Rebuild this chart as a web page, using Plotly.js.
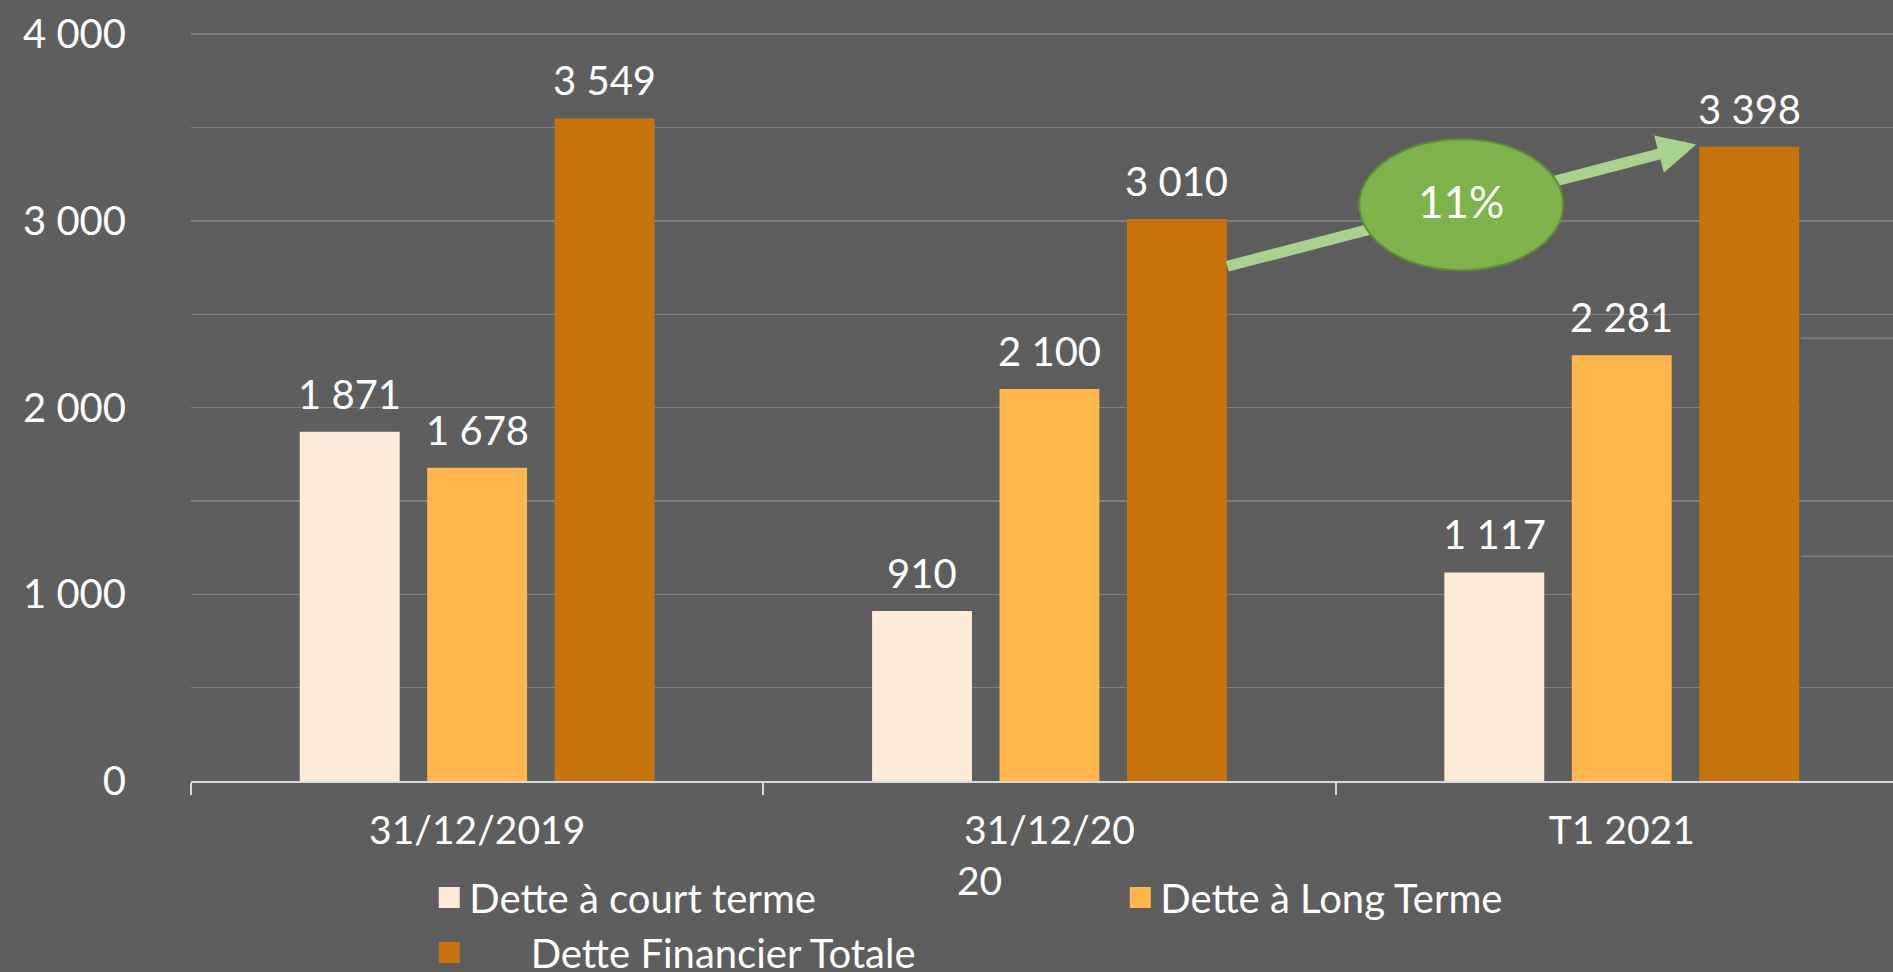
<!DOCTYPE html>
<html>
<head>
<meta charset="utf-8">
<script src="https://cdn.plot.ly/plotly-3.0.1.min.js"></script>
<style>
  html, body { margin: 0; padding: 0; background: #5E5E5E; }
  #chart { width: 1893px; height: 972px; }
</style>
</head>
<body>
<div id="chart"></div>
<script>
// ---- data ----
const categories = ['31/12/2019', '31/12/2020', 'T1 2021'];
const tickLabels = ['31/12/2019', '31/12/20<br>20\u00A0\u00A0\u00A0\u00A0\u00A0\u00A0\u00A0\u00A0\u00A0\u00A0\u00A0\u00A0\u00A0\u00A0', 'T1 2021'];
const seriesNames = ['Dette à court terme', 'Dette à Long Terme', 'Dette Financier Totale'];
const legendLabels = ['Dette à court terme', 'Dette à Long Terme', '\u00A0\u00A0\u00A0\u00A0\u00A0\u00A0Dette Financier Totale'];
const detteCourtTerme = [1871, 910, 1117];
const detteLongTerme = [1678, 2100, 2281];
const detteTotale = [3549, 3010, 3398];
const growthLabel = '11%';

// ---- styles ----
const BG = '#5E5E5E';
const GRID = '#808080';
const colors = ['#FCEBD7', '#FFB74D', '#C7740D'];
const FONT = 'Lato, "Open Sans", sans-serif';
const BARGAP = 0.332;
const BARGROUPGAP = 0.216;

const series = [detteCourtTerme, detteLongTerme, detteTotale];
const slot = (1 - BARGAP) / series.length;
const barW = slot * (1 - BARGROUPGAP);

function fmt(v) { return String(v).replace(/\B(?=(\d{3})+(?!\d))/g, ' '); }

const traces = [];
series.forEach((vals, s) => {
  traces.push({
    type: 'bar', x: categories, y: vals, name: seriesNames[s],
    marker: { color: colors[s] }, showlegend: false, hoverinfo: 'skip'
  });
});
series.forEach((vals, s) => {
  traces.push({
    type: 'scatter', mode: 'markers', x: [null], y: [null], name: legendLabels[s],
    marker: { symbol: 'square', size: 16, color: colors[s], line: { color: colors[s], width: 5 } },
    hoverinfo: 'skip'
  });
});

const annotations = [];
series.forEach((vals, s) => {
  vals.forEach((v, i) => {
    annotations.push({
      xref: 'x', yref: 'y', x: i + (s - 1) * slot, y: v, text: fmt(v),
      showarrow: false, yanchor: 'middle', yshift: 38,
      font: { family: FONT, size: 40, color: '#FFFFFF' }
    });
  });
});

// growth callout (arrow from 2020 total bar to T1 2021 total bar)
const lastBarRight = (categories.length - 1) + slot + barW / 2;
const arrowStart = { x: 1.3108, y: 2757 };
const arrowTip = { x: 2.1302, y: 3410 };
function along(t) { return { x: arrowStart.x + t * (arrowTip.x - arrowStart.x), y: arrowStart.y + t * (arrowTip.y - arrowStart.y) }; }
const arrowMid = along(0.75);
const shaftEnd = along(0.86);
const ellipse = { x0: 1.5414, x1: 1.8979, y0: 2736, y1: 3438 };

annotations.push({
  xref: 'x', yref: 'y', axref: 'x', ayref: 'y',
  x: arrowTip.x, y: arrowTip.y, ax: arrowMid.x, ay: arrowMid.y,
  text: ' ', font: { size: 1 }, showarrow: true,
  arrowhead: 2, arrowsize: 0.7, arrowwidth: 11, arrowcolor: '#A9D18E', standoff: 0
});
annotations.push({
  xref: 'x', yref: 'y', x: (ellipse.x0 + ellipse.x1) / 2, y: (ellipse.y0 + ellipse.y1) / 2,
  text: growthLabel, showarrow: false, yshift: 4,
  font: { family: FONT, size: 44, color: '#FFFFFF' }
});

const shapes = [];
// gridline irregularities at the right edge of the reference
[1000, 2000].forEach(y => shapes.push({
  type: 'line', xref: 'x', yref: 'y', x0: lastBarRight + 0.003, x1: 2.6, y0: y, y1: y,
  line: { color: BG, width: 4 }
}));
[2371, 1204].forEach(y => shapes.push({
  type: 'line', xref: 'x', yref: 'y', x0: lastBarRight + 0.003, x1: 2.6, y0: y, y1: y,
  line: { color: GRID, width: 1.5 }
}));
shapes.push({
  type: 'line', xref: 'x', yref: 'y', x0: arrowStart.x, y0: arrowStart.y, x1: shaftEnd.x, y1: shaftEnd.y,
  line: { color: '#A9D18E', width: 11 }
});
shapes.push({
  type: 'circle', xref: 'x', yref: 'y', x0: ellipse.x0, x1: ellipse.x1, y0: ellipse.y0, y1: ellipse.y1,
  fillcolor: '#7EB34C', line: { color: '#5F8C35', width: 2 }
});

const layout = {
  width: 1893, height: 972,
  paper_bgcolor: BG, plot_bgcolor: BG,
  margin: { l: 191, r: 0, t: 32, b: 191, autoexpand: false },
  separators: ', ',
  barmode: 'group', bargap: BARGAP, bargroupgap: BARGROUPGAP,
  font: { family: FONT, color: '#FFFFFF', size: 40 },
  showlegend: true,
  legend: {
    orientation: 'h', x: 0.14, xanchor: 'left', y: -0.112, yanchor: 'top',
    entrywidth: 646, entrywidthmode: 'pixels',
    bgcolor: 'rgba(0,0,0,0)', font: { family: FONT, size: 40, color: '#FFFFFF' },
    traceorder: 'normal'
  },
  xaxis: {
    type: 'category', range: [-0.5, 2.474],
    tickmode: 'array', tickvals: categories, ticktext: tickLabels,
    tickson: 'boundaries', ticks: 'outside', ticklen: 12, tickwidth: 2, tickcolor: '#D9D9D9',
    showline: true, linecolor: '#D9D9D9', linewidth: 2, showgrid: false, zeroline: false,
    tickfont: { family: FONT, size: 39, color: '#FFFFFF' }, ticklabelstandoff: 14,
    fixedrange: true
  },
  yaxis: {
    range: [0, 4012], tick0: 0, dtick: 1000, tickformat: ',',
    showgrid: true, gridcolor: GRID, gridwidth: 1.5, zeroline: false, showline: false,
    ticks: 'outside', ticklen: 56, tickcolor: 'rgba(0,0,0,0)',
    tickfont: { family: FONT, size: 40, color: '#FFFFFF' },
    minor: { dtick: 500, showgrid: true, gridcolor: GRID, gridwidth: 1.5 },
    fixedrange: true
  },
  annotations: annotations,
  shapes: shapes
};

Plotly.newPlot('chart', traces, layout, { displayModeBar: false, staticPlot: true });
</script>
</body>
</html>
